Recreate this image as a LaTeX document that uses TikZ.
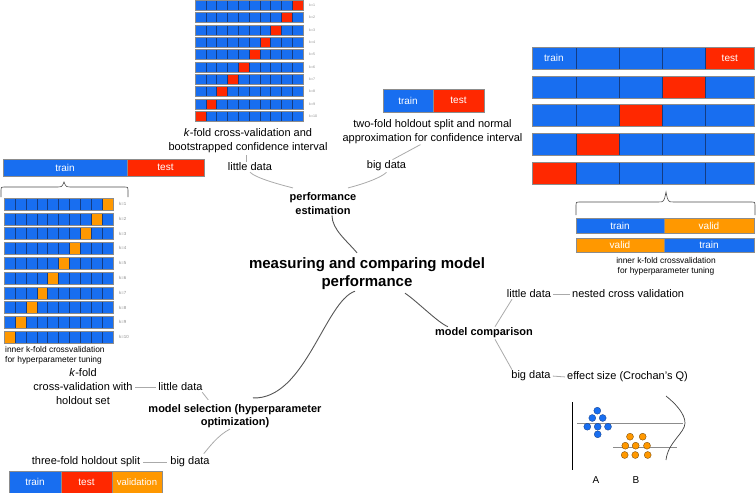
\documentclass[tikz,border=0pt]{standalone}
\usepackage{fontspec}
\setmainfont{Liberation Sans}
\usetikzlibrary{calc,positioning}
\definecolor{FoldBlue}{RGB}{24,110,240}
\definecolor{FoldRed}{RGB}{255,40,0}
\definecolor{FoldOrange}{RGB}{255,152,0}
\definecolor{CellEdge}{RGB}{20,60,130}
\definecolor{LinkGray}{RGB}{170,170,170}
\definecolor{TreeGray}{RGB}{85,85,85}

\begin{document}
\begin{tikzpicture}[x=1pt,y=-1pt,
  lbl/.style={font=\fontsize{11}{13.5}\selectfont,align=center,inner sep=1pt},
  topic/.style={font=\fontsize{11}{13.5}\selectfont\bfseries,align=center,inner sep=1pt},
  note/.style={font=\fontsize{8.4}{9.8}\selectfont,align=center,inner sep=0pt},
  klbl/.style={font=\fontsize{3.6}{4}\selectfont,text=black!45,anchor=west,inner sep=0pt},
  celltxt/.style={font=\fontsize{10}{12}\selectfont,text=white,inner sep=0pt},
  link/.style={LinkGray,line width=0.8pt},
  branch/.style={TreeGray,line width=0.9pt},
  rowedge/.style={draw=black!45,line width=0.4pt},
  divider/.style={CellEdge,line width=0.35pt},
  brace/.style={black!70,line width=0.6pt},
  dotA/.style={fill=FoldBlue,draw=CellEdge,line width=0.3pt},
  dotB/.style={fill=FoldOrange,draw=black!60!FoldOrange,line width=0.3pt}]
\useasboundingbox (0,0) rectangle (756,493);

\foreach \r in {1,...,10}{
  \fill[FoldBlue] (195,{(\r-1)*12.35}) rectangle +(108,10.2);
  \fill[FoldRed] ({195+(10-\r)*10.8},{(\r-1)*12.35}) rectangle +(10.8,10.2);
  \foreach \c in {1,...,9} \draw[divider] ({195+\c*10.8},{(\r-1)*12.35}) -- +(0,10.2);
  \draw[rowedge] (195,{(\r-1)*12.35}) rectangle +(108,10.2);
  \node[klbl] (kt\r) at (309,{(\r-1)*12.35+5.1}) {k=\r};
}

\foreach \r in {1,...,10}{
  \fill[FoldBlue] (4,{198+(\r-1)*14.8}) rectangle +(109,12);
  \fill[FoldOrange] ({4+(10-\r)*10.9},{198+(\r-1)*14.8}) rectangle +(10.9,12);
  \foreach \c in {1,...,9} \draw[divider] ({4+\c*10.9},{198+(\r-1)*14.8}) -- +(0,12);
  \draw[rowedge] (4,{198+(\r-1)*14.8}) rectangle +(109,12);
  \node[klbl,font=\fontsize{4.4}{5}\selectfont] (kl\r) at (119,{204+(\r-1)*14.8}) {k=\r};
}

\foreach \r in {1,...,5}{
  \pgfmathsetmacro\yt{47+(\r-1)*28.7}
  \foreach \xa/\xb [count=\c] in {532/575.7,575.7/619,619/662.3,662.3/705.6,705.6/754}{
    \pgfmathtruncatemacro\hit{\c==6-\r}
    \ifnum\hit=1 \fill[FoldRed] (\xa,\yt) rectangle (\xb,\yt+22); \else \fill[FoldBlue] (\xa,\yt) rectangle (\xb,\yt+22); \fi
    \draw[divider] (\xa,\yt) rectangle (\xb,\yt+22);
  }
  \draw[rowedge] (532,\yt) rectangle (754,\yt+22);
}
\node[celltxt] (rTrain) at (553.9,58) {train};
\node[celltxt] (rTest) at (729.8,58) {test};

\draw[brace] (576,215) -- (576,205) .. controls (576,202) .. (579,202) -- (658,202) .. controls (664,202) .. (666,192) .. controls (668,202) .. (674,202) -- (752,202) .. controls (755,202) .. (755,205) -- (755,215);
\fill[FoldBlue] (576,218) rectangle (664,233);
\fill[FoldOrange] (664,218) rectangle (754,233);
\fill[FoldOrange] (576,238) rectangle (664,252);
\fill[FoldBlue] (664,238) rectangle (754,252);
\draw[rowedge] (576,218) rectangle (754,233) (664,218) -- (664,233);
\draw[rowedge] (576,238) rectangle (754,252) (664,238) -- (664,252);
\node[celltxt] (vTrainA) at (620,225.5) {train};
\node[celltxt] (vValidA) at (709,225.5) {valid};
\node[celltxt] (vValidB) at (620,245) {valid};
\node[celltxt] (vTrainB) at (709,245) {train};
\node[note] (innerR) at (666,266.7) {inner k-fold crossvalidation\\for hyperparameter tuning};

\fill[FoldBlue] (3,159) rectangle (127,176);
\fill[FoldRed] (127,159) rectangle (204,176);
\draw[rowedge] (3,159) rectangle (204,176) (127,159) -- (127,176);
\node[celltxt] (lTrain) at (65,167.5) {train};
\node[celltxt] (lTest) at (165.5,167.5) {test};
\draw[brace] (1,197) -- (1,190) .. controls (1,187) .. (4,187) -- (56,187) .. controls (62,187) .. (64,182) .. controls (66,187) .. (72,187) -- (125,187) .. controls (128,187) .. (128,190) -- (128,197);
\node[note,align=left,anchor=west] (innerL) at (5,355.7) {inner k-fold crossvalidation\\for hyperparameter tuning};

\fill[FoldBlue] (383,89) rectangle (433,112);
\fill[FoldRed] (433,89) rectangle (484,112);
\draw[rowedge] (383,89) rectangle (484,112) (433,89) -- (433,112);
\node[celltxt] (tTrain) at (408,100.5) {train};
\node[celltxt] (tTest) at (458.5,100.5) {test};

\fill[FoldBlue] (9,471) rectangle (61,493);
\fill[FoldRed] (61,471) rectangle (112,493);
\fill[FoldOrange] (112,471) rectangle (162,493);
\draw[rowedge] (9,471) rectangle (162,493) (61,471) -- (61,493) (112,471) -- (112,493);
\node[celltxt] (bTrain) at (35,482) {train};
\node[celltxt] (bTest) at (86.5,482) {test};
\node[celltxt,font=\fontsize{9.5}{11}\selectfont] (bValid) at (137,482) {validation};

\draw[black,line width=1pt] (572,402) -- (572,470);
\draw[black!45,line width=0.7pt] (577,423) -- (683,423);
\draw[black!45,line width=0.7pt] (613,447) -- (677,447);
\foreach \p in {(597.3,410.7),(592.3,418),(602.7,418),(587.3,426.7),(597.7,426.7),(608,426.7),(597.7,434.3)}
  \filldraw[dotA] \p circle (3.5pt);
\foreach \p in {(630,436.7),(642.7,436.7),(625.3,445.7),(635.7,445.7),(647,445.7),(624.7,455),(635.3,455),(647.7,455)}
  \filldraw[dotB] \p circle (3.5pt);
\draw[black!75,line width=0.7pt] (666,396) .. controls (676,404) and (685,414) .. (685,423) .. controls (685,433) and (668,442) .. (666,460);
\node[font=\fontsize{10}{12}\selectfont] (grpA) at (596,480) {A};
\node[font=\fontsize{10}{12}\selectfont] (grpB) at (636,480) {B};

\node[lbl] (bootTxt) at (248,140.5) {\textit{k}-fold cross-validation and\\bootstrapped confidence interval};
\node[lbl] (perfLittle) at (250,167) {little data};
\node[lbl] (perfBig) at (386.5,166) {big data};
\node[lbl] (holdTxt) at (432.5,131.5) {two-fold holdout split and normal\\approximation for confidence interval};
\node[topic] (perf) at (323,203.5) {performance\\estimation};
\node[topic,font=\fontsize{15}{18}\selectfont\bfseries] (main) at (367,274) {measuring and comparing model\\performance};
\node[topic] (comp) at (484,333) {model comparison};
\node[lbl] (compLittle) at (529,294) {little data};
\node[lbl,anchor=west] (nested) at (571,294) {nested cross validation};
\node[lbl] (compBig) at (531,376) {big data};
\node[lbl,anchor=west] (effect) at (566,377) {effect size (Crochan's Q)};
\node[lbl,font=\fontsize{11}{14}\selectfont] (kfoldTxt) at (83,387) {\textit{k}-fold\\cross-validation with\\holdout set};
\node[lbl] (selLittle) at (180.5,387) {little data};
\node[topic] (sel) at (235,416) {model selection (hyperparameter\\optimization)};
\node[lbl] (selBig) at (190,462) {big data};
\node[lbl] (threeTxt) at (86,462) {three-fold holdout split};

\draw[link,shorten >=1pt] ([xshift=-4pt]perfLittle.north) -- ([xshift=-4pt]perfLittle.north |- bootTxt.south);
\draw[link] (perfLittle.south) .. controls +(6,6) and +(-12,-3) .. ([shift={(4.5,-3.6)}]perf.north west);
\draw[link] (perfBig.south) .. controls +(-6,6) and +(12,-3) .. ([shift={(-9.5,-3.6)}]perf.north east);
\draw[link] ([xshift=6pt]perfBig.north) -- ([xshift=-12pt]holdTxt.south);
\draw[branch] ([xshift=9pt]perf.south) .. controls +(0,14) and +(-10,-12) .. ([shift={(-10,-4)}]main.north);
\draw[branch] ([xshift=-12pt]main.south) .. controls +(-30,10) and +(52,2) .. ([shift={(18,-5)}]sel.north);
\draw[branch] ([shift={(38,2)}]main.south) .. controls +(12,8) and +(-10,-4) .. ([xshift=14pt]comp.north west);
\draw[link] ([xshift=11pt]comp.north) -- ([xshift=-17pt]compLittle.south);
\draw[link] ([xshift=11pt]comp.south) -- ([xshift=-19pt]compBig.north);
\draw[link,shorten <=1pt,shorten >=1pt] (compLittle.east) -- (nested.west);
\draw[link,shorten <=1pt,shorten >=1pt] (compBig.east) -- (effect.west);
\draw[link,shorten <=1.5pt,shorten >=1.5pt] (kfoldTxt.east) -- (selLittle.west);
\draw[link] ([xshift=-1.5pt]selLittle.south east) -- ([shift={(61,-3)}]sel.north west);
\draw[link] ([xshift=-5pt]sel.south) .. controls +(-12,6) and +(5,-6) .. ([shift={(-7,-2)}]selBig.north east);
\draw[link,shorten <=2pt,shorten >=2pt] (threeTxt.east) -- (selBig.west);
\end{tikzpicture}
\end{document}
